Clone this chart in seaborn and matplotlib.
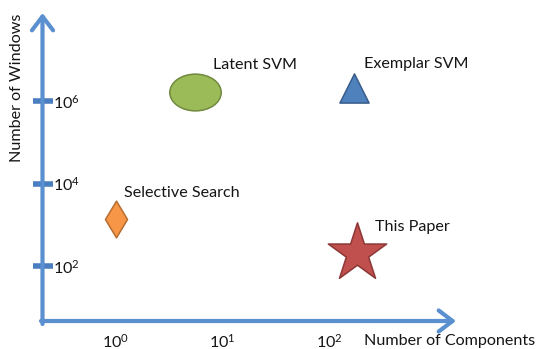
import numpy as np
import pandas as pd
import matplotlib
matplotlib.use("Agg")
import matplotlib.pyplot as plt
from matplotlib.markers import MarkerStyle
from matplotlib.transforms import Affine2D
from matplotlib.ticker import FixedLocator, NullLocator
import seaborn as sns

# ---- data ----
methods = ["Latent SVM", "Exemplar SVM", "Selective Search", "This Paper"]
components = [5.5, 170, 1.0, 182]
windows = [1.7e6, 2.1e6, 1.4e3, 2.1e2]
fill_colors = ["#9BBB59", "#4F81BD", "#F79646", "#C0504D"]
edge_colors = ["#71893F", "#385D8A", "#B66D31", "#8C3836"]
x_ticks = [1, 10, 100]
x_tick_labels = [r"$\mathregular{10^{0}}$", r"$\mathregular{10^{1}}$", r"$\mathregular{10^{2}}$"]
y_ticks = [1e2, 1e4, 1e6]
y_tick_labels = [r"$\mathregular{10^{2}}$", r"$\mathregular{10^{4}}$", r"$\mathregular{10^{6}}$"]

df = pd.DataFrame({"method": methods, "components": components, "windows": windows})

sns.set_style("white")
plt.rcParams["font.family"] = ["Lato", "DejaVu Sans"]
plt.rcParams["mathtext.fontset"] = "custom"
plt.rcParams["mathtext.rm"] = "Lato"

W, H = 543, 349
fig = plt.figure(figsize=(W / 100, H / 100), dpi=100)
ax = fig.add_axes([0, 0, 1, 1])

axis_blue = "#5A8FD0"
tick_blue = "#4A7EC0"
txt = "#151515"
fs = 11.6

markers = {
    "Latent SVM": MarkerStyle("o", transform=Affine2D().scale(1.4, 1.0)),
    "Exemplar SVM": "^",
    "Selective Search": "d",
    "This Paper": "*",
}
sizes = {"Latent SVM": 700, "Exemplar SVM": 440, "Selective Search": 350, "This Paper": 1950}
text_offsets = {
    "Latent SVM": (18, 27),
    "Exemplar SVM": (10, 24),
    "Selective Search": (8, 26),
    "This Paper": (18, 26),
}

for i, m in enumerate(methods):
    sub = df[df["method"] == m]
    sns.scatterplot(data=sub, x="components", y="windows", ax=ax,
                    marker=markers[m], s=sizes[m], color=fill_colors[i],
                    edgecolor=edge_colors[i], linewidth=1.1, zorder=3, legend=False)
    ax.annotate(m, (components[i], windows[i]), xytext=text_offsets[m],
                textcoords="offset pixels", ha="left", va="center",
                fontsize=fs, color=txt)

ax.set_xscale("log")
ax.set_yscale("log")
ax.set_xlim(10 ** -1.081, 10 ** 3.994)
ax.set_ylim(10 ** -0.008, 10 ** 8.453)

ox, oy = 42.5 / W, 1 - 321 / H
for s in ["top", "left"]:
    ax.spines[s].set_visible(False)
ax.spines["right"].set_position(("axes", ox))
ax.spines["bottom"].set_position(("axes", oy))
ax.spines["right"].set_color("none")
ax.spines["bottom"].set_color("none")

ax.yaxis.tick_right()
ax.xaxis.set_major_locator(FixedLocator(x_ticks))
ax.yaxis.set_major_locator(FixedLocator(y_ticks))
ax.xaxis.set_minor_locator(NullLocator())
ax.yaxis.set_minor_locator(NullLocator())
ax.set_xticklabels(x_tick_labels)
ax.set_yticklabels(y_tick_labels)
ax.tick_params(axis="both", which="major", direction="inout", length=14.5, width=4.0,
               color=tick_blue, labelsize=fs, labelcolor=txt, pad=1)
ax.tick_params(axis="y", right=True, left=False, labelright=True, labelleft=False, pad=0)

# axis arrows
arrow_kw = dict(arrowstyle="->,head_length=0.5,head_width=0.38", color=axis_blue,
                lw=3.0, mutation_scale=20, shrinkA=0, shrinkB=0)
ax.annotate("", xy=(ox, 1 - 13 / H), xytext=(ox, 1 - 324 / H), xycoords="axes fraction",
            arrowprops=arrow_kw, zorder=2)
ax.annotate("", xy=(456 / W, oy), xytext=(41 / W, oy), xycoords="axes fraction",
            arrowprops=arrow_kw, zorder=2)

ax.set_xlabel("Number of Components", fontsize=fs, color=txt, ha="left", va="center")
ax.xaxis.set_label_coords(364 / W, 1 - 341 / H)
ax.set_ylabel("Number of Windows", fontsize=fs, color=txt, ha="center", va="center")
ax.yaxis.set_label_coords(17 / W, 1 - 88 / H)

fig.savefig("out.png", dpi=100)
